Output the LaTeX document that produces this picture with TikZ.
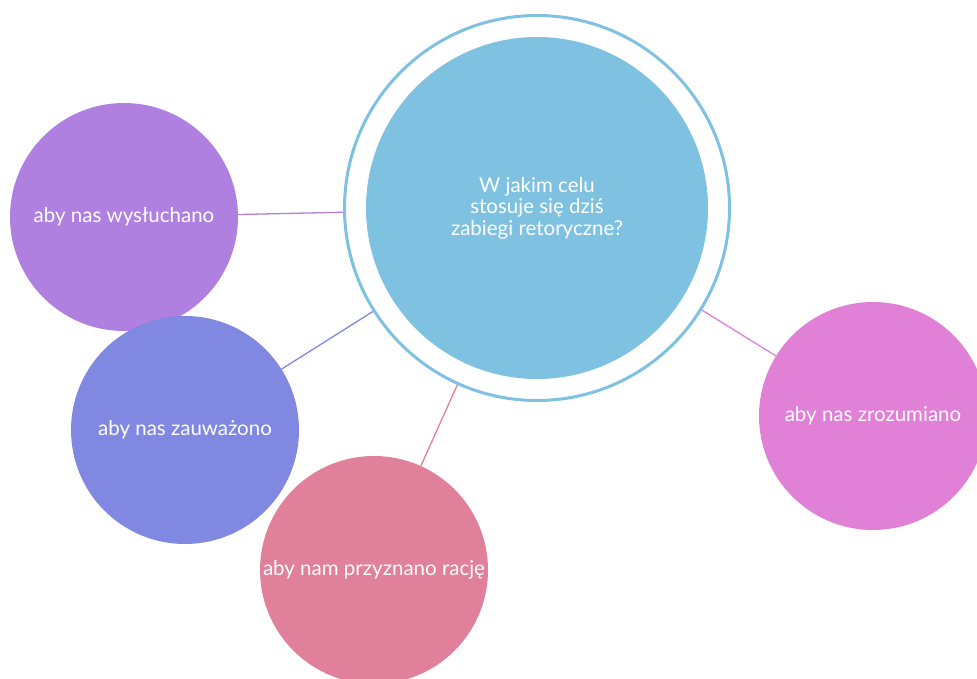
\documentclass[tikz,border=0pt]{standalone}
\usepackage{fontspec}
\setmainfont{Lato}
\definecolor{cmain}{RGB}{127,193,225}
\definecolor{cpurple}{RGB}{176,128,225}
\definecolor{cviolet}{RGB}{128,136,225}
\definecolor{cpink}{RGB}{224,128,154}
\definecolor{cmagenta}{RGB}{224,128,214}
\begin{document}
\begin{tikzpicture}[x=1pt,y=-1pt,
  bubble/.style={circle,minimum size=228pt,inner sep=0pt},
  txt/.style={text=white,font=\fontsize{20.5}{21.5}\selectfont,align=center,inner sep=0pt},
  conn/.style={line width=1.3pt}]
\useasboundingbox (0,0) rectangle (977,678);
\node[circle,draw=cmain,line width=3pt,minimum size=385pt,inner sep=0pt] (ring) at (537,208) {};
\node[circle,fill=cmain,minimum size=342pt,inner sep=0pt] (main) at (537,208) {};
\node[txt] (tmain) at (main.center) {W jakim celu\\stosuje się dziś\\zabiegi retoryczne?};
\node[bubble,fill=cpurple] (c1) at (124,217) {};
\node[bubble,fill=cviolet] (c2) at (185,430) {};
\node[bubble,fill=cpink] (c3) at (374,570) {};
\node[bubble,fill=cmagenta] (c4) at (873,416) {};
\node[txt] (t1) at (c1.center) {aby nas wysłuchano};
\node[txt] (t2) at (c2.center) {aby nas zauważono};
\node[txt] (t3) at (c3.center) {aby nam przyznano rację};
\node[txt] (t4) at (c4.center) {aby nas zrozumiano};
\draw[conn,cpurple] (ring) -- (c1);
\draw[conn,cviolet] (ring) -- (c2);
\draw[conn,cpink] (ring) -- (c3);
\draw[conn,cmagenta] (ring) -- (c4);
\end{tikzpicture}
\end{document}
